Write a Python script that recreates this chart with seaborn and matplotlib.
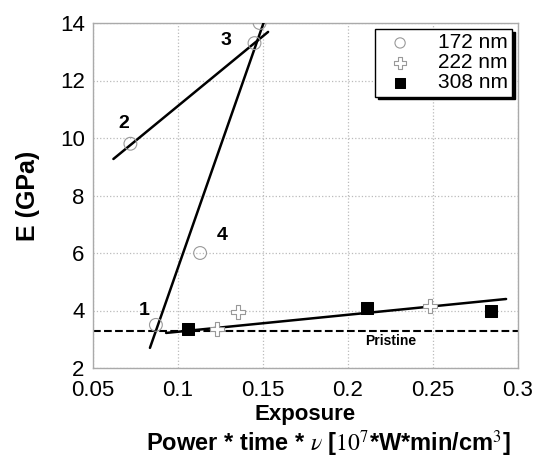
import matplotlib
matplotlib.use("Agg")
import pandas as pd
import seaborn as sns
from matplotlib import pyplot as plt

# data
x_172 = [0.072, 0.145, 0.113, 0.087, 0.148]
y_172 = [9.8, 13.3, 6.0, 3.5, 14.0]
x_222 = [0.135, 0.123, 0.248]
y_222 = [3.95, 3.35, 4.15]
x_308 = [0.106, 0.211, 0.284]
y_308 = [3.35, 4.1, 4.0]

# fitted lines (end points)
line1_x = [0.093, 0.293]
line1_y = [3.22, 4.4]
line2_x = [0.062, 0.153]
line2_y = [9.27, 13.69]
line34_x = [0.0835, 0.1515]
line34_y = [2.70, 14.2]
pristine = 3.3

labels = ["1", "2", "3", "4"]
label_x = [0.080, 0.068, 0.128, 0.126]
label_y = [4.0, 10.5, 13.4, 6.6]

sns.set_style("white")
plt.rcParams['font.family'] = ['Liberation Sans', 'DejaVu Sans']
plt.rcParams['mathtext.fontset'] = 'stix'
plt.rcParams['text.color'] = 'black'
plt.rcParams['xtick.color'] = 'black'
plt.rcParams['ytick.color'] = 'black'
plt.rcParams['axes.labelcolor'] = 'black'

fig = plt.figure(figsize=(5.36, 4.59), dpi=100)
ax = fig.add_axes([93/536, 1-368/459, 425/536, 345/459])

sns.scatterplot(x=x_172, y=y_172, ax=ax, marker='o', s=85, facecolor='none',
                edgecolor='#999999', linewidth=0.8, label='172 nm', zorder=4)
sns.scatterplot(x=x_222, y=y_222, ax=ax, marker='P', s=110, color='white',
                edgecolor='#999999', linewidth=0.8, label='222 nm', zorder=4)
sns.scatterplot(x=x_308, y=y_308, ax=ax, marker='s', s=85, color='black',
                edgecolor='black', label='308 nm', zorder=4)

for lx, ly in [(line1_x, line1_y), (line2_x, line2_y), (line34_x, line34_y)]:
    sns.lineplot(x=lx, y=ly, ax=ax, color='black', lw=1.8, zorder=3)
ax.axhline(pristine, color='black', ls='--', lw=1.5, zorder=2)

for t, tx, ty in zip(labels, label_x, label_y):
    ax.text(tx, ty, t, fontsize=14, fontweight='bold', ha='center', va='center')
ax.text(0.225, 2.94, "Pristine", fontsize=10, fontweight='bold', ha='center', va='center')

ax.set_xlim(0.05, 0.3)
ax.set_ylim(2, 14)
ax.set_xticks([0.05, 0.1, 0.15, 0.2, 0.25, 0.3])
ax.set_xticklabels(["0.05", "0.1", "0.15", "0.2", "0.25", "0.3"])
ax.set_yticks([2, 4, 6, 8, 10, 12, 14])
ax.tick_params(labelsize=16, length=0)
ax.tick_params(axis='x', pad=9)
ax.tick_params(axis='y', pad=6)
ax.grid(True, color='#bbbbbb', ls=':', lw=0.9)
for sp in ax.spines.values():
    sp.set_color('#aaaaaa')
    sp.set_linewidth(1.0)

ax.set_ylabel("E (GPa)", fontsize=18, fontweight='bold', labelpad=14)
ax.set_xlabel("Exposure", fontsize=16, fontweight='bold', labelpad=2)
fig.text(0.612, 0.034, r"Power * time * $\nu$ [$10^7$*W*min/cm$^3$]",
         fontsize=17, fontweight='bold', ha='center', va='center')

leg = ax.legend(loc='upper right', fontsize=15, frameon=True, fancybox=False,
                shadow={'color': 'black', 'alpha': 1}, edgecolor='black',
                borderpad=0.2, labelspacing=0.05, handletextpad=0.8,
                borderaxespad=0.3, markerscale=0.8, framealpha=1)
leg.get_frame().set_linewidth(1.0)

fig.savefig("out.png", dpi=100)
